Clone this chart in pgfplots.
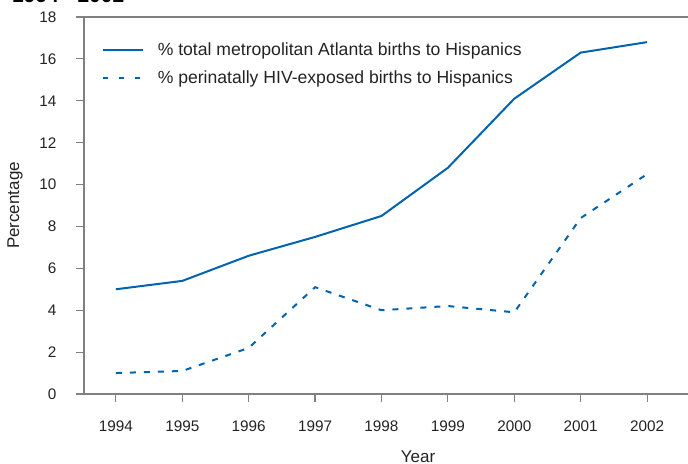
\documentclass[border=0pt]{standalone}
\usepackage{fontspec}
\setmainfont{Liberation Sans}
\usepackage{pgfplots}
\pgfplotsset{compat=1.18}
\definecolor{lineblue}{RGB}{0,99,175}
\definecolor{axgray}{RGB}{128,128,128}
\definecolor{txt}{RGB}{35,35,35}
\begin{document}
\begin{tikzpicture}
\begin{axis}[
  at={(84bp,70bp)}, anchor=south west,
  scale only axis, width=604bp, height=377bp,
  xmin=1993.52, xmax=2002.616, ymin=0, ymax=18,
  xtick={1994,1995,1996,1997,1998,1999,2000,2001,2002},
  ytick={0,2,4,6,8,10,12,14,16,18},
  xticklabels={1994,1995,1996,1997,1998,1999,2000,2001,2002},
  xtick pos=bottom, ytick pos=left,
  tick align=outside, major tick length=8bp,
  tick style={axgray, line width=1.2bp},
  axis line style={draw=none},
  clip=false,
  /pgf/number format/assume math mode=true,
  tick label style={font=\fontsize{15.3bp}{18bp}\selectfont, text=txt},
  yticklabel style={xshift=-16bp},
  xticklabel style={yshift=-15bp},
  legend style={at={(rel axis cs:0.025,0.943)}, anchor=north west, draw=none, fill=none,
    font=\fontsize{17.6bp}{20bp}\selectfont, text=txt, row sep=10bp,
    nodes={inner xsep=8.5bp},
    /tikz/every odd column/.append style={column sep=5bp}},
  legend cell align=left,
  legend image code/.code={\draw[#1] (0bp,0bp) -- (40bp,0bp);},
]
\addplot[lineblue, line width=2bp] coordinates {
(1994,5.0) (1995,5.4) (1996,6.6) (1997,7.5) (1998,8.5) (1999,10.8) (2000,14.1) (2001,16.3) (2002,16.8)};
\addlegendentry{\% total metropolitan Atlanta births to Hispanics}
\addplot[lineblue, line width=2bp, dash pattern=on 6bp off 8bp,
  legend image post style={dash pattern=on 4.5bp off 11.5bp}] coordinates {
(1994,1.0) (1995,1.1) (1996,2.2) (1997,5.1) (1998,4.0) (1999,4.2) (2000,3.9) (2001,8.4) (2002,10.5)};
\addlegendentry{\% perinatally HIV-exposed births to Hispanics}
\draw[axgray, line width=1.5bp] (rel axis cs:0,0) -- (rel axis cs:0,1);
\draw[axgray, line width=1.5bp] ([xshift=-8bp]rel axis cs:0,0) -- (rel axis cs:1,0);
\draw[axgray, line width=1.5bp] ([xshift=-8bp]rel axis cs:0,1) -- (rel axis cs:1,1);
\end{axis}
\node[rotate=90, font=\fontsize{17bp}{20bp}\selectfont, text=txt, inner sep=0pt] at (15bp,258.5bp) {Percentage};
\node[anchor=base, font=\fontsize{17bp}{20bp}\selectfont, text=txt, inner sep=0pt] at (418bp,1.5bp) {Year};
\node[anchor=base west, font=\bfseries\fontsize{21bp}{24bp}\selectfont, inner sep=0pt] at (12bp,461bp) {1994 - 2002};
\pgfresetboundingbox
\useasboundingbox (0,0) rectangle (688bp,464bp);
\end{tikzpicture}
\end{document}
